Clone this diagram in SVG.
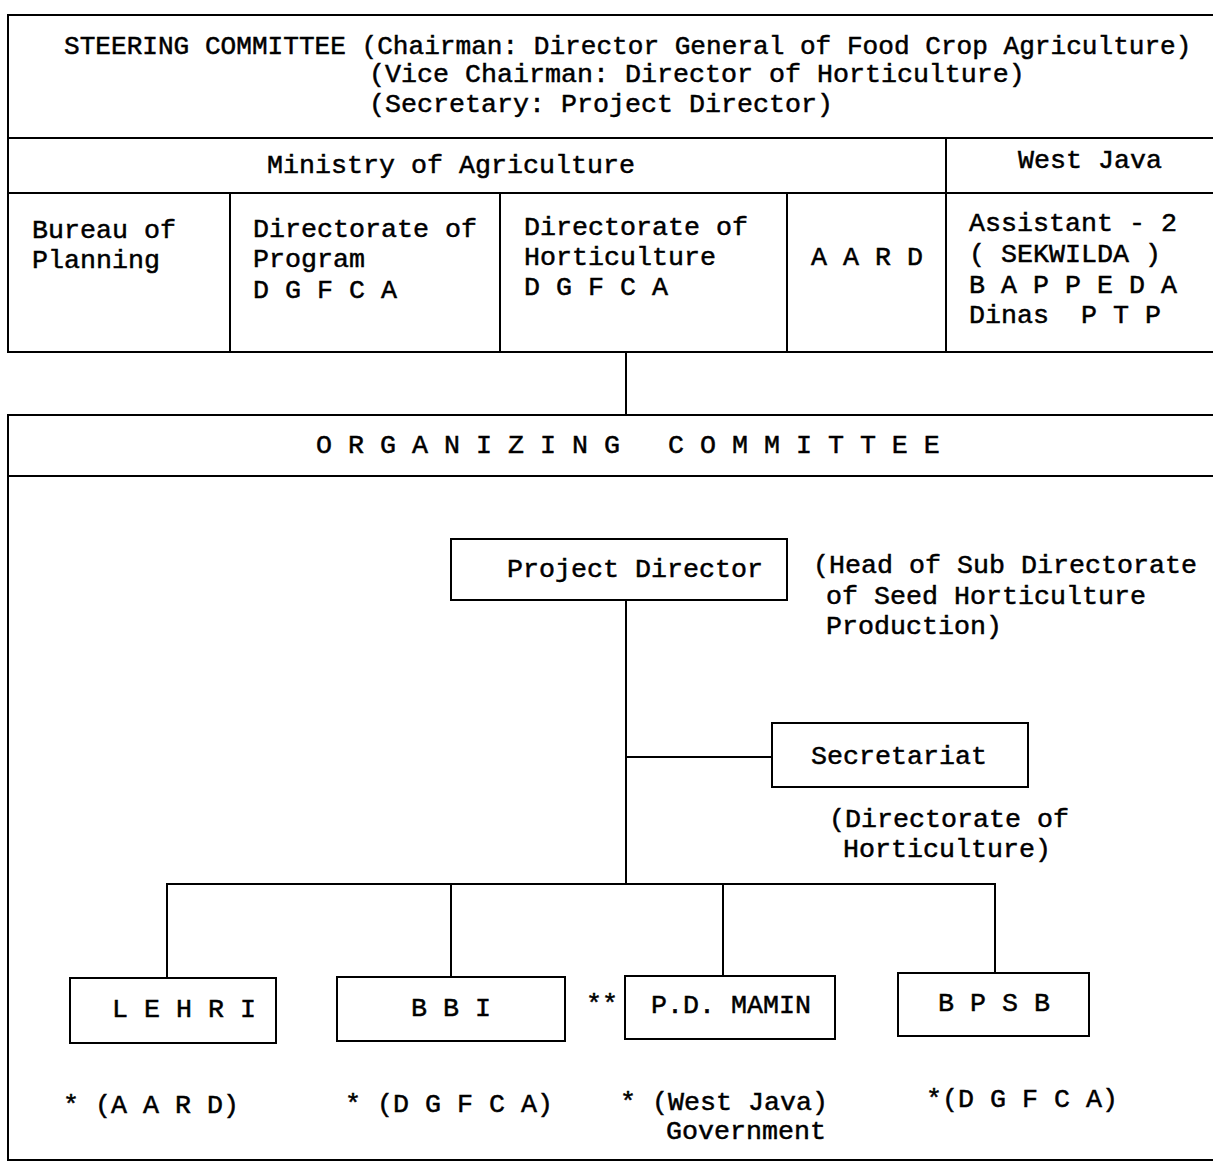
<svg xmlns="http://www.w3.org/2000/svg" width="1213" height="1165" viewBox="0 0 1213 1165">
<style>
.t{font-family:"Liberation Mono","Courier New",monospace;font-size:26.67px;fill:#000;stroke:#000;stroke-width:0.5;white-space:pre}
.ln{stroke:#000;stroke-width:2;fill:none;stroke-linecap:square}
.box{fill:#fff;stroke:#000;stroke-width:2}
</style>
<rect width="1213" height="1165" fill="#fff"/>
<g id="steering-committee">
<path class="ln" d="M8 15H1213M8 15V352M8 138H1213M8 193H1213M8 352H1213"/>
<text class="t" x="64" y="54" style="font-size:26.1px">STEERING COMMITTEE (Chairman: Director General of Food Crop Agriculture)</text>
<text class="t" x="369" y="82">(Vice Chairman: Director of Horticulture)</text>
<text class="t" x="369" y="112">(Secretary: Project Director)</text>
</g>
<g id="ministry-of-agriculture">
<path class="ln" d="M946 138V352"/>
<text class="t" x="267" y="173">Ministry of Agriculture</text>
</g>
<g id="west-java">
<text class="t" x="1018" y="168">West Java</text>
</g>
<g id="bureau-of-planning">
<text class="t" x="32" y="238">Bureau of</text>
<text class="t" x="32" y="268">Planning</text>
</g>
<g id="directorate-of-program">
<path class="ln" d="M230 193V352"/>
<text class="t" x="253" y="237">Directorate of</text>
<text class="t" x="253" y="267">Program</text>
<text class="t" x="253" y="298">D G F C A</text>
</g>
<g id="directorate-of-horticulture">
<path class="ln" d="M500 193V352"/>
<text class="t" x="524" y="235">Directorate of</text>
<text class="t" x="524" y="265">Horticulture</text>
<text class="t" x="524" y="295">D G F C A</text>
</g>
<g id="aard">
<path class="ln" d="M787 193V352"/>
<text class="t" x="811" y="265">A A R D</text>
</g>
<g id="west-java-members">
<text class="t" x="969" y="231">Assistant - 2</text>
<text class="t" x="969" y="262">( SEKWILDA )</text>
<text class="t" x="969" y="293">B A P P E D A</text>
<text class="t" x="969" y="323">Dinas  P T P</text>
</g>
<g id="organizing-committee">
<path class="ln" d="M8 415H1213M8 415V1160M8 476H1213M8 1160H1213"/>
<text class="t" x="316" y="453">O R G A N I Z I N G   C O M M I T T E E</text>
</g>
<g id="connectors">
<path class="ln" d="M626 352V415"/>
<path class="ln" d="M626 600V884"/>
<path class="ln" d="M626 757H772"/>
<path class="ln" d="M167 884H995"/>
<path class="ln" d="M167 884V978M451 884V977M723 884V976M995 884V973"/>
</g>
<g id="project-director">
<rect class="box" x="451" y="539" width="336" height="61"/>
<text class="t" x="507" y="577">Project Director</text>
<text class="t" x="813" y="573">(Head of Sub Directorate</text>
<text class="t" x="826" y="604">of Seed Horticulture</text>
<text class="t" x="826" y="634">Production)</text>
</g>
<g id="secretariat">
<rect class="box" x="772" y="723" width="256" height="64"/>
<text class="t" x="811" y="764">Secretariat</text>
<text class="t" x="829" y="827">(Directorate of</text>
<text class="t" x="843" y="857">Horticulture)</text>
</g>
<g id="lehri">
<rect class="box" x="70" y="978" width="206" height="65"/>
<text class="t" x="112" y="1017">L E H R I</text>
<text class="t" x="63" y="1113">* (A A R D)</text>
</g>
<g id="bbi">
<rect class="box" x="337" y="977" width="228" height="64"/>
<text class="t" x="411" y="1016">B B I</text>
<text class="t" x="345" y="1112">* (D G F C A)</text>
</g>
<g id="pd-mamin">
<rect class="box" x="625" y="976" width="210" height="63"/>
<text class="t" x="586" y="1012">**</text>
<text class="t" x="651" y="1013">P.D. MAMIN</text>
<text class="t" x="620" y="1110">* (West Java)</text>
<text class="t" x="666" y="1139">Government</text>
</g>
<g id="bpsb">
<rect class="box" x="898" y="973" width="191" height="63"/>
<text class="t" x="938" y="1011">B P S B</text>
<text class="t" x="926" y="1107">*(D G F C A)</text>
</g>
</svg>
